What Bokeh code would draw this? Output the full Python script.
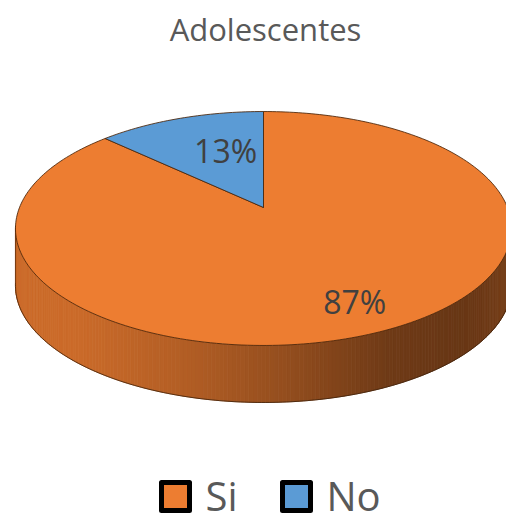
import numpy as np
from bokeh.plotting import figure
from bokeh.models import Range1d
from bokeh.core.properties import value
from bokeh.embed import file_html
from bokeh.resources import INLINE

# ---- data ----
title = "Adolescentes"
categories = ["Si", "No"]
values = [87, 13]
colors = ["#ED7D31", "#5B9BD5"]

# ---- layout / style ----
W, H = 506, 523
CX, CY = 263.0, 207.0       # apex of the pie (pixels)
R, RY, K = 244.0, 113.2, 0.1795
DEPTH = 57.0
FONT = value("Open Sans")

p = figure(width=W, height=H, x_range=Range1d(0, W), y_range=Range1d(H, 0),
           output_backend="svg", toolbar_location=None, min_border=0)
p.axis.visible = False
p.grid.visible = False
p.outline_line_color = None
p.background_fill_color = "white"
p.border_fill_color = "white"


def proj(theta, frac=1.0):
    s = np.sin(theta)
    c = np.cos(theta)
    d = 1 - K * frac * s
    return CX + R * frac * c / d, CY + RY * frac * s / d


def hex2rgb(h):
    h = h.lstrip("#")
    return np.array([int(h[i:i + 2], 16) for i in (0, 2, 4)], dtype=float)


def rgb2hex(c):
    c = np.clip(c, 0, 255).astype(int)
    return "#%02x%02x%02x" % tuple(c)


vals = np.array(values, dtype=float)
fr = vals / vals.sum()
start = -np.pi / 2
edges = start + 2 * np.pi * np.concatenate([[0], np.cumsum(fr)])


def slice_of(theta):
    t = (theta - start) % (2 * np.pi) + start
    idx = np.searchsorted(edges, t, side="right") - 1
    return int(np.clip(idx, 0, len(vals) - 1))


# ---- side (front wall) with shading ----
t0 = np.arcsin(K)
ts = np.linspace(t0 - 0.02, np.pi - t0 + 0.02, 200)
sx, sy = proj(ts)
xmin, xmax = sx.min(), sx.max()
shade_u = [0.0, 0.12, 0.35, 0.55, 0.75, 0.9, 1.0]
shade_f = [0.86, 0.86, 0.75, 0.62, 0.47, 0.44, 0.5]
xs_list, ys_list, cols = [], [], []
for i in range(len(ts) - 1):
    xa, ya = proj(ts[i])
    xb, yb = proj(ts[i + 1])
    xs_list.append([xa, xb, xb, xa])
    ys_list.append([ya, yb, yb + DEPTH, ya + DEPTH])
    u = ((xa + xb) / 2 - xmin) / (xmax - xmin)
    f = np.interp(u, shade_u, shade_f)
    base = hex2rgb(colors[slice_of((ts[i] + ts[i + 1]) / 2)])
    cols.append(rgb2hex(base * f))
p.patches(xs_list, ys_list, fill_color=cols, line_color=cols, line_width=0.8)

# side outline
p.line(sx, sy + DEPTH, line_color="#3d1f08", line_width=1, line_alpha=0.8)
for tt in (ts[0], ts[-1]):
    xe, ye = proj(tt)
    p.line([xe, xe], [ye, ye + DEPTH], line_color="#3d1f08", line_width=1, line_alpha=0.6)

# ---- top surface slices ----
for i in range(len(vals)):
    th = np.linspace(edges[i], edges[i + 1], max(int(300 * fr[i]), 8))
    ax, ay = proj(th)
    px = np.concatenate([[CX], ax, [CX]])
    py = np.concatenate([[CY], ay, [CY]])
    p.patch(px, py, fill_color=colors[i], line_color="#4a2508", line_width=1, line_alpha=0.85)

# ---- percentage labels ----
label_frac = [0.80, 0.55]
label_dx = [2, 11]
label_dy = [-2, -5]
for i in range(len(vals)):
    mid = (edges[i] + edges[i + 1]) / 2
    lx, ly = proj(mid, label_frac[i])
    p.text(x=[lx + label_dx[i]], y=[ly + label_dy[i]], text=["%d%%" % round(fr[i] * 100)],
           text_font=FONT, text_font_size="32px", text_color="#404040",
           text_align="center", text_baseline="middle")

# ---- title ----
p.text(x=[265], y=[28], text=[title], text_font=FONT, text_font_size="31px",
       text_color="#595959", text_align="center", text_baseline="middle")

# ---- legend ----
leg_x0, leg_step, leg_y = 175.0, 121.0, 495.0
for i, cat in enumerate(categories):
    x = leg_x0 + i * leg_step
    p.rect(x=[x], y=[leg_y + 1], width=28, height=28, fill_color=colors[i],
           line_color="black", line_width=5, line_join="round")
    p.text(x=[x + 30], y=[leg_y], text=[cat], text_font=FONT,
           text_font_size="40px", text_color="#595959", text_align="left",
           text_baseline="middle")

open("out.html", "w").write(file_html(p, INLINE))
